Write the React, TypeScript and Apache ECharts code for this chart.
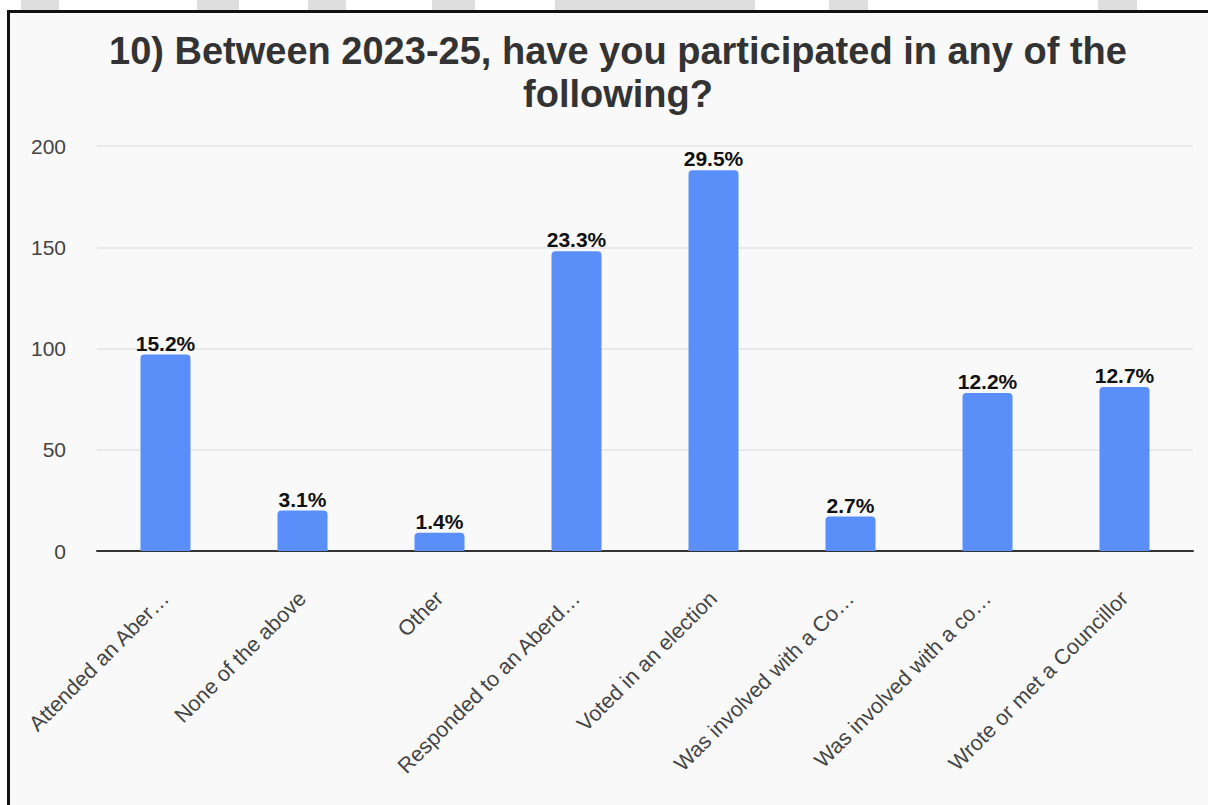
import React, { useEffect, useRef } from "react";
import * as echarts from "echarts";

const categories = [
  "Attended an Aber…",
  "None of the above",
  "Other",
  "Responded to an Aberd…",
  "Voted in an election",
  "Was involved with a Co…",
  "Was involved with a co…",
  "Wrote or met a Councillor",
];
const counts = [97, 20, 9, 148, 188, 17, 78, 81];
const percentLabels = ["15.2%", "3.1%", "1.4%", "23.3%", "29.5%", "2.7%", "12.2%", "12.7%"];
const yTicks = [0, 50, 100, 150, 200];
const titleText = "10) Between 2023-25, have you participated in any of the\nfollowing?";

// decorative watermark fragments above the frame: [left, width]
const topBlocks: [number, number][] = [
  [21, 38],
  [197, 42],
  [308, 38],
  [432, 43],
  [555, 200],
  [829, 39],
  [1098, 39],
];

const FONT = "Liberation Sans, Arial, sans-serif";

export default function App() {
  const ref = useRef<HTMLDivElement>(null);
  useEffect(() => {
    document.body.style.margin = "0";
    if (!ref.current) return;
    const chart = echarts.init(ref.current, null, { renderer: "svg" });
    chart.setOption({
      animation: false,
      title: {
        text: titleText,
        left: 613,
        textAlign: "center",
        top: 24,
        textStyle: {
          fontFamily: FONT,
          fontSize: 38,
          fontWeight: "bold",
          color: "#333333",
          lineHeight: 43,
        },
      },
      grid: { left: 97, right: 15, top: 146, bottom: 254, containLabel: false },
      xAxis: {
        type: "category",
        data: categories,
        axisLine: { show: true, lineStyle: { color: "#333333", width: 2 } },
        axisTick: { show: false },
        axisLabel: {
          interval: 0,
          rotate: 45,
          margin: 44,
          fontFamily: FONT,
          fontSize: 21.5,
          color: "#444444",
        },
      },
      yAxis: {
        type: "value",
        min: yTicks[0],
        max: yTicks[yTicks.length - 1],
        interval: yTicks[1] - yTicks[0],
        axisLine: { show: false },
        axisTick: { show: false },
        splitLine: { lineStyle: { color: "#e3e3e3", width: 1.5 } },
        axisLabel: {
          margin: 31,
          fontFamily: FONT,
          fontSize: 21,
          color: "#444444",
        },
      },
      series: [
        {
          type: "bar",
          data: counts,
          barWidth: 50,
          itemStyle: { color: "#5a8ffa", borderRadius: [4, 4, 0, 0] },
          label: {
            show: true,
            position: "top",
            distance: 1,
            formatter: (p: any) => percentLabels[p.dataIndex],
            fontFamily: FONT,
            fontSize: 21,
            fontWeight: "bold",
            color: "#111111",
          },
        },
      ],
    });
    return () => chart.dispose();
  }, []);

  return (
    <div style={{ position: "relative", width: 1208, height: 805, background: "#ffffff", overflow: "hidden" }}>
      {topBlocks.map(([l, w], i) => (
        <div
          key={i}
          style={{ position: "absolute", left: l, top: 0, width: w, height: 11, background: "#dedede" }}
        />
      ))}
      <div
        style={{
          position: "absolute",
          left: 7,
          top: 10,
          width: 1201,
          height: 795,
          boxSizing: "border-box",
          borderLeft: "3px solid #111111",
          borderTop: "3px solid #111111",
          background: "#f9f9f9",
        }}
      />
      <div ref={ref} style={{ position: "absolute", left: 0, top: 0, width: 1208, height: 805 }} />
    </div>
  );
}
